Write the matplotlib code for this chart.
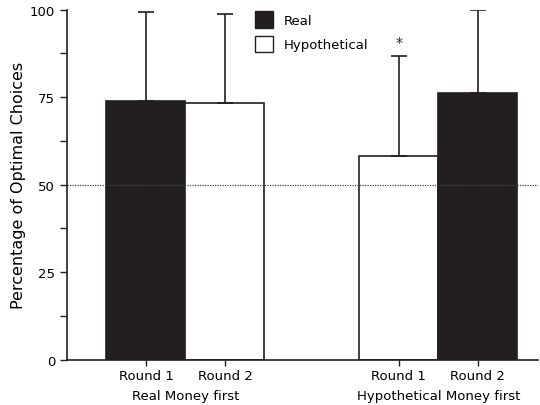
import matplotlib
matplotlib.use("Agg")
import matplotlib.pyplot as plt
from matplotlib.patches import Patch
from matplotlib.transforms import blended_transform_factory

# data
round_labels = ["Round 1", "Round 2", "Round 1", "Round 2"]
group_labels = ["Real Money first", "Hypothetical Money first"]
conditions = ["Real", "Hypothetical", "Hypothetical", "Real"]
means = [74.0, 73.3, 58.3, 76.3]
upper_err = [25.4, 25.6, 28.4, 23.7]
positions = [1.0, 2.0, 4.2, 5.2]
chance_level = 50

colors = {"Real": "#231f20", "Hypothetical": "white"}

plt.rcParams["font.family"] = "DejaVu Sans"
fig = plt.figure(figsize=(5.4, 4.06), dpi=100)
ax = fig.add_axes([0.124, 0.1116, 0.872, 0.862])

for x, m, e, c in zip(positions, means, upper_err, conditions):
    ax.bar(x, m, width=1.0, color=colors[c], edgecolor="#231f20", linewidth=1.2, zorder=2)
    ax.errorbar(x, m, yerr=[[0], [e]], color="#231f20", elinewidth=1.2,
                capsize=6, capthick=1.2, zorder=3)

ax.axhline(chance_level, color="#444444", linestyle=(0, (1, 1)), linewidth=0.9, zorder=2.5)

# significance marker over the hypothetical round 1 bar
ax.text(positions[2], means[2] + upper_err[2] + 4.0, "*", ha="center", va="center",
        fontsize=10, color="#231f20")

ax.set_xlim(0, 5.96)
ax.set_ylim(0, 100)
ax.set_yticks([0, 25, 50, 75, 100])
ax.set_yticks([12.5, 37.5, 62.5, 87.5], minor=True)
ax.tick_params(axis="y", which="both", length=5, width=1, labelsize=9.5, color="#231f20")
ax.set_xticks(positions)
ax.set_xticklabels(round_labels, fontsize=9.5)
ax.tick_params(axis="x", length=4, width=1, pad=3, color="#231f20")
ax.set_ylabel("Percentage of Optimal Choices", fontsize=11.5, labelpad=3)

for side in ["top", "right"]:
    ax.spines[side].set_visible(False)
for side in ["left", "bottom"]:
    ax.spines[side].set_linewidth(1.2)
    ax.spines[side].set_color("#231f20")

trans = blended_transform_factory(ax.transData, ax.transAxes)
ax.text((positions[0] + positions[1]) / 2, -0.103, group_labels[0], transform=trans,
        ha="center", va="center", fontsize=9.5)
ax.text((positions[2] + positions[3]) / 2, -0.103, group_labels[1], transform=trans,
        ha="center", va="center", fontsize=9.5)

handles = [Patch(facecolor=colors["Real"], edgecolor="#231f20", label="Real"),
           Patch(facecolor=colors["Hypothetical"], edgecolor="#231f20", label="Hypothetical")]
ax.legend(handles=handles, loc="upper left", bbox_to_anchor=(0.375, 1.03), frameon=False,
          fontsize=9.5, handlelength=1.35, handleheight=1.55, handletextpad=0.8,
          labelspacing=0.6)

fig.savefig("out.png", dpi=100)
